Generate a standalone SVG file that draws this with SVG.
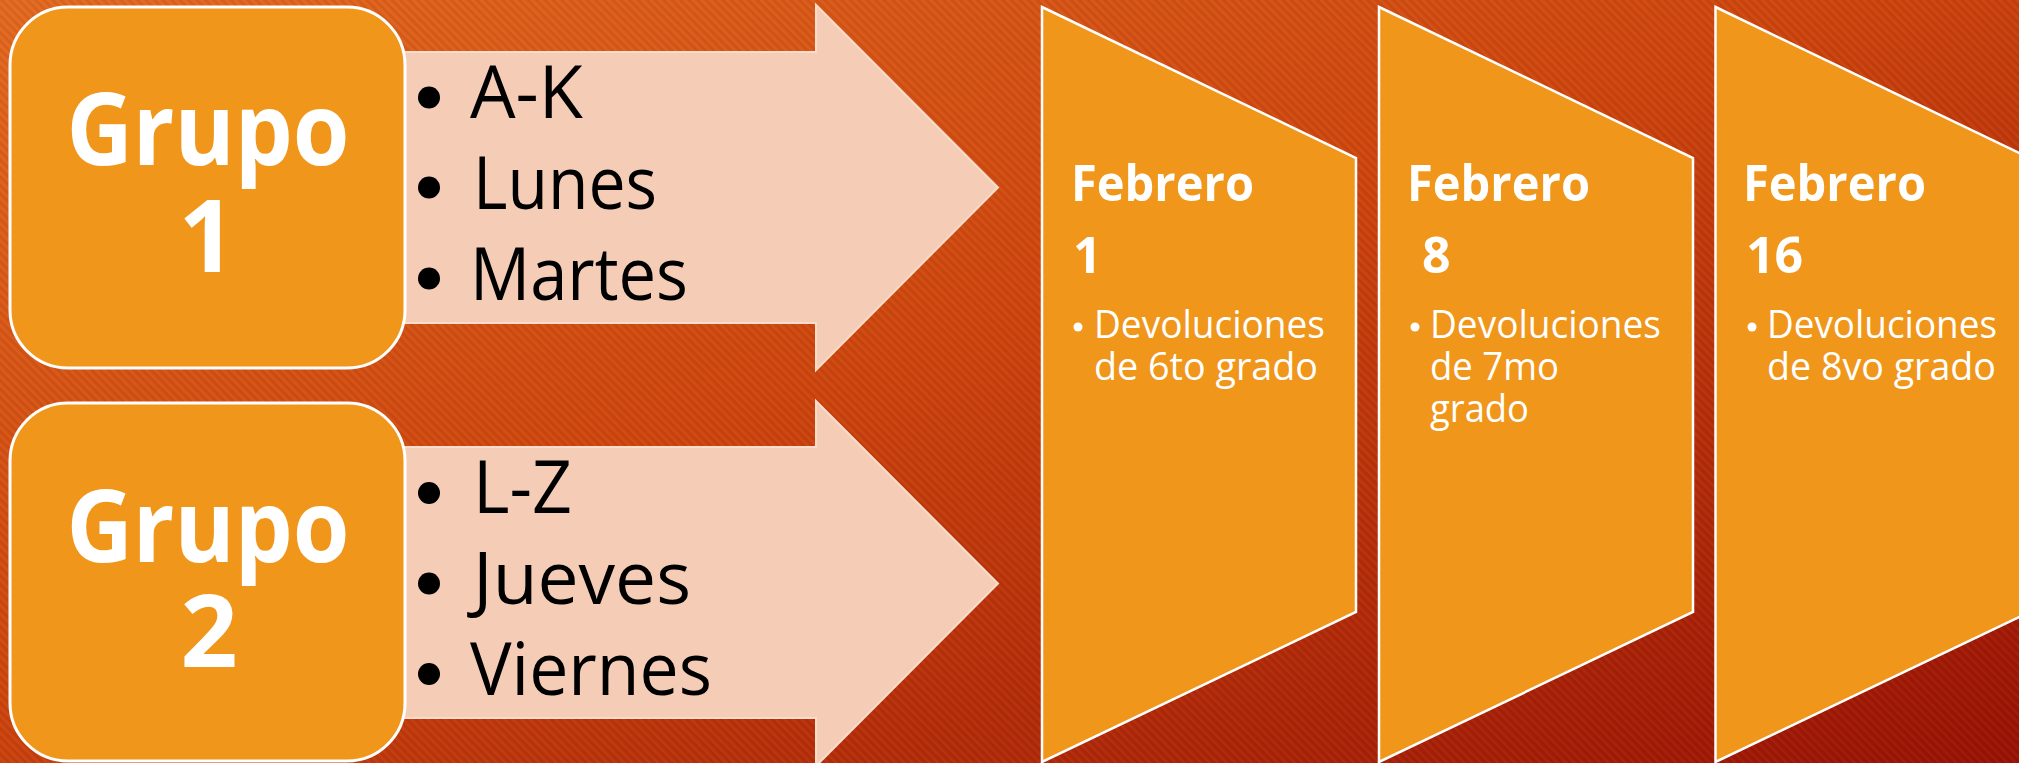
<svg xmlns="http://www.w3.org/2000/svg" width="2019" height="763" viewBox="0 0 2019 763">
  <defs>
    <linearGradient id="bg" x1="0" y1="0" x2="1" y2="1">
      <stop offset="0" stop-color="#E4691F"/>
      <stop offset="0.45" stop-color="#CF460E"/>
      <stop offset="1" stop-color="#9A1204"/>
    </linearGradient>
    <pattern id="stripes" patternUnits="userSpaceOnUse" width="6" height="6" patternTransform="rotate(-45)">
      <rect x="0" y="0" width="2.5" height="6" fill="#000" fill-opacity="0.06"/>
      <rect x="3" y="0" width="1.5" height="6" fill="#fff" fill-opacity="0.04"/>
    </pattern>
    <style>
      .box { fill: #F0961A; stroke: #FFFFFF; stroke-width: 3; }
      .arrow { fill: #F5CDB7; stroke: #F9DCCB; stroke-width: 2; }
      .chev { fill: #F0961A; stroke: #FFFFFF; stroke-width: 2.5; }
      .grp { font-family: "Open Sans", "Noto Sans", sans-serif; font-weight: 700; font-size: 100px; fill: #FFFFFF; text-anchor: middle; }
      .item { font-family: "Open Sans", "Noto Sans", sans-serif; font-size: 74px; fill: #000000; }
      .dot { fill: #000000; }
      .feb { font-family: "Open Sans", "Noto Sans", sans-serif; font-weight: 700; font-size: 50px; fill: #FFFFFF; }
      .dev { font-family: "Open Sans", "Noto Sans", sans-serif; font-size: 38px; fill: #FFFFFF; }
      .wdot { fill: #FFFFFF; }
    </style>
  </defs>

  <rect x="0" y="0" width="2019" height="763" fill="url(#bg)"/>
  <rect x="0" y="0" width="2019" height="763" fill="url(#stripes)"/>

  <g id="connectors">
    <polygon class="arrow" points="380,52 816,52 816,5 998,187.5 816,370 816,323 380,323"/>
    <polygon class="arrow" points="380,447 816,447 816,401 998,583.5 816,766 816,718 380,718"/>
  </g>

  <g id="grupo1">
    <rect class="box" x="10" y="7" width="395" height="361" rx="58" ry="58"/>
    <text class="grp" x="208" y="165" textLength="283" lengthAdjust="spacingAndGlyphs">Grupo</text>
    <text class="grp" x="207" y="272">1</text>
  </g>
  <g id="lista1">
    <circle class="dot" cx="429" cy="97.5" r="11"/>
    <text class="item" x="470" y="118" textLength="113" lengthAdjust="spacingAndGlyphs">A-K</text>
    <circle class="dot" cx="429" cy="187.5" r="11"/>
    <text class="item" x="473" y="209" textLength="184" lengthAdjust="spacingAndGlyphs">Lunes</text>
    <circle class="dot" cx="429" cy="278.5" r="11"/>
    <text class="item" x="470" y="300" textLength="218" lengthAdjust="spacingAndGlyphs">Martes</text>
  </g>

  <g id="grupo2">
    <rect class="box" x="10" y="403" width="395" height="358" rx="58" ry="58"/>
    <text class="grp" x="208" y="562" textLength="283" lengthAdjust="spacingAndGlyphs">Grupo</text>
    <text class="grp" x="209" y="667">2</text>
  </g>
  <g id="lista2">
    <circle class="dot" cx="429" cy="493" r="11"/>
    <text class="item" x="473" y="513" textLength="99" lengthAdjust="spacingAndGlyphs">L-Z</text>
    <circle class="dot" cx="429" cy="583.5" r="11"/>
    <text class="item" x="473" y="604" textLength="218" lengthAdjust="spacingAndGlyphs">Jueves</text>
    <circle class="dot" cx="429" cy="674" r="11"/>
    <text class="item" x="470" y="695" textLength="242" lengthAdjust="spacingAndGlyphs">Viernes</text>
  </g>

  <g id="febrero1">
    <polygon class="chev" points="1042,7 1356,158 1356,612 1042,762"/>
    <text class="feb" x="1071" y="201" textLength="183" lengthAdjust="spacingAndGlyphs">Febrero</text>
    <text class="feb" x="1073" y="273">1</text>
    <circle class="wdot" cx="1078" cy="327" r="4.5"/>
    <text class="dev" x="1094" y="338" textLength="231" lengthAdjust="spacingAndGlyphs">Devoluciones</text>
    <text class="dev" x="1094" y="380" textLength="224" lengthAdjust="spacingAndGlyphs">de 6to grado</text>
  </g>

  <g id="febrero8">
    <polygon class="chev" points="1379,7 1693,158 1693,612 1379,762"/>
    <text class="feb" x="1407" y="201" textLength="183" lengthAdjust="spacingAndGlyphs">Febrero</text>
    <text class="feb" x="1422" y="273">8</text>
    <circle class="wdot" cx="1415" cy="327" r="4.5"/>
    <text class="dev" x="1430" y="338" textLength="231" lengthAdjust="spacingAndGlyphs">Devoluciones</text>
    <text class="dev" x="1430" y="380" textLength="129" lengthAdjust="spacingAndGlyphs">de 7mo</text>
    <text class="dev" x="1430" y="422" textLength="99" lengthAdjust="spacingAndGlyphs">grado</text>
  </g>

  <g id="febrero16">
    <polygon class="chev" points="1715.5,7 2029.5,158 2029.5,612 1715.5,762"/>
    <text class="feb" x="1743" y="201" textLength="183" lengthAdjust="spacingAndGlyphs">Febrero</text>
    <text class="feb" x="1746" y="273">16</text>
    <circle class="wdot" cx="1752" cy="327" r="4.5"/>
    <text class="dev" x="1767" y="338" textLength="230" lengthAdjust="spacingAndGlyphs">Devoluciones</text>
    <text class="dev" x="1767" y="380" textLength="229" lengthAdjust="spacingAndGlyphs">de 8vo grado</text>
  </g>
</svg>
